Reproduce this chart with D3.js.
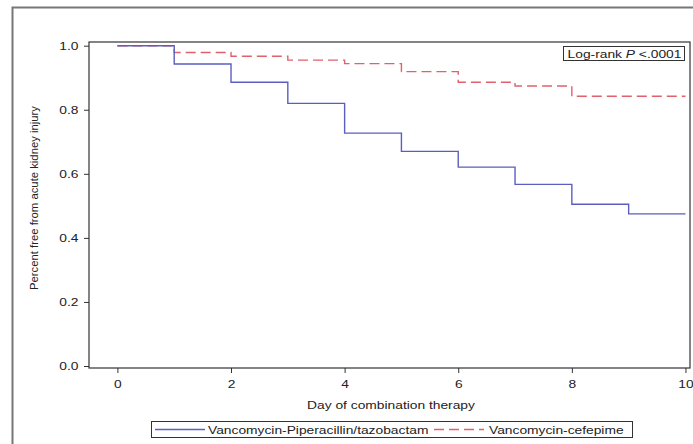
<!DOCTYPE html>
<html><head><meta charset="utf-8">
<script src="https://cdn.jsdelivr.net/npm/d3@7/dist/d3.min.js"></script>
<style>body{margin:0;background:#fff}svg{display:block}text{font-family:"Liberation Sans",Arial,sans-serif;fill:#222}</style>
</head><body><svg id="c" width="693" height="444"></svg>
<script>
const days = [0,1,2,3,4,5,6,7,8,9,10];
const pipTazo = [1.0,0.943,0.886,0.820,0.727,0.670,0.621,0.567,0.505,0.475,0.475];
const cefepime = [1.0,0.979,0.967,0.955,0.944,0.919,0.886,0.874,0.842,0.842,0.842];
const xTicks = [0,2,4,6,8,10];
const yTicks = [0.0,0.2,0.4,0.6,0.8,1.0];
const seriesNames = ["Vancomycin-Piperacillin/tazobactam","Vancomycin-cefepime"];

const SX = 1.2, FS = "11.5px";
const svg = d3.select("#c");
const L=89,R=690,T=42,B=368;
const x = d3.scaleLinear().domain([-0.5,10.08]).range([L,R]);
const y = d3.scaleLinear().domain([0,1]).range([366,45.7]);

function htext(px,py,anchor){
  return svg.append("g").attr("transform",`translate(${px},${py}) scale(${SX},1)`)
    .append("text").attr("text-anchor",anchor||"start").style("font-size",FS);
}

// outer frame
svg.append("rect").attr("x",12.5).attr("y",7.5).attr("width",700).attr("height",460)
  .attr("fill","none").attr("stroke","#777").attr("stroke-width",2);

// axes
const xa = svg.append("g").attr("transform",`translate(0,${B})`)
  .call(d3.axisBottom(x).tickValues(xTicks).tickSize(5).tickPadding(7).tickFormat(d3.format("d")));
const ya = svg.append("g").attr("transform",`translate(${L},0)`)
  .call(d3.axisLeft(y).tickValues(yTicks).tickSize(5).tickPadding(6).tickFormat(d3.format(".1f")));
[xa,ya].forEach(g=>{g.select(".domain").remove();g.selectAll("line").attr("stroke","#333");
  g.selectAll("text").style("font-size",FS).attr("fill","#222");});
xa.selectAll("text").attr("transform",`scale(${SX},1)`);
ya.selectAll("text").attr("x",-10.5/SX).attr("transform",`scale(${SX},1)`);

// plot frame
svg.append("rect").attr("x",L).attr("y",T).attr("width",R-L).attr("height",B-T)
  .attr("fill","none").attr("stroke","#333").attr("stroke-width",1.2);

const line = d3.line().x(d=>x(d[0])).y(d=>y(d[1])).curve(d3.curveStepAfter);
svg.append("path").datum(days.map((d,i)=>[d,cefepime[i]])).attr("d",line)
  .attr("fill","none").attr("stroke","#e0606b").attr("stroke-width",1.4).attr("stroke-dasharray","10,5");
svg.append("path").datum(days.map((d,i)=>[d,pipTazo[i]])).attr("d",line)
  .attr("fill","none").attr("stroke","#5a5ec0").attr("stroke-width",1.4);

// log-rank box
svg.append("rect").attr("x",563.5).attr("y",46.5).attr("width",121).attr("height",14)
  .attr("fill","#fff").attr("stroke","#333");
const lt = htext(624.5,57.8,"middle");
lt.append("tspan").text("Log-rank ");
lt.append("tspan").attr("font-style","italic").text("P");
lt.append("tspan").text(" <.0001");

// axis titles
htext(391,409,"middle").text("Day of combination therapy");
svg.append("text").attr("transform","translate(38,198) rotate(-90)").attr("text-anchor","middle")
  .style("font-size","11.3px").text("Percent free from acute kidney injury");

// legend
svg.append("rect").attr("x",151.5).attr("y",421.5).attr("width",481).attr("height",16)
  .attr("fill","#fff").attr("stroke","#333");
svg.append("line").attr("x1",155).attr("x2",205).attr("y1",429.5).attr("y2",429.5)
  .attr("stroke","#5a5ec0").attr("stroke-width",1.4);
htext(208,433.8).text(seriesNames[0]);
svg.append("line").attr("x1",434).attr("x2",484).attr("y1",429.5).attr("y2",429.5)
  .attr("stroke","#e0606b").attr("stroke-width",1.4).attr("stroke-dasharray","10,5");
htext(489,433.8).text(seriesNames[1]);
</script></body></html>
